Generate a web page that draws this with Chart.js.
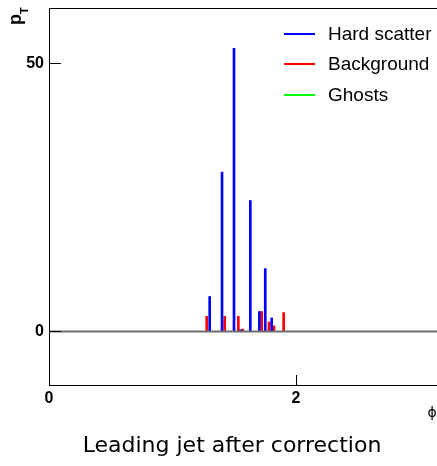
<!DOCTYPE html>
<html lang="en">
<head>
<meta charset="UTF-8">
<title>Leading jet after correction</title>
<script src="https://cdn.jsdelivr.net/npm/chart.js"></script>
<style>
  body { margin: 0; background: #fff; }
  #wrap { width: 437px; height: 466px; position: relative; }
</style>
</head>
<body>
<div id="wrap"><canvas id="jetChart"></canvas></div>
<script>
// jet phi positions and pT values
const hardPhi = [1.301, 1.401, 1.498, 1.552, 1.630, 1.703, 1.751, 1.803];
const hardPt  = [6.5, 29.7, 52.8, 0.3, 24.4, 3.7, 11.7, 2.5];
const bkgPhi  = [1.277, 1.423, 1.533, 1.568, 1.722, 1.781, 1.822, 1.900];
const bkgPt   = [2.8, 2.8, 2.8, 0.4, 3.7, 1.75, 1.0, 3.5];
const ghostPhi = [];
const ghostPt  = [];

const xTicks = [0, 2];
const yTicks = [0, 50];

const titleText = 'Leading jet after correction';

function points(xs, ys) {
  return xs.map((x, i) => ({ x: x, y: ys[i] }));
}

// frame, zero line, inner ticks, axis titles, legend and title in ROOT style
const rootFrame = {
  id: 'rootFrame',
  afterDatasetsDraw(chart) {
    const { ctx, chartArea: a, scales: { x, y } } = chart;
    ctx.save();

    const y0 = Math.round(y.getPixelForValue(0));
    ctx.strokeStyle = '#6e6e6e';
    ctx.lineWidth = 2;
    ctx.beginPath();
    ctx.moveTo(a.left, y0 + 0.5);
    ctx.lineTo(a.right, y0 + 0.5);
    ctx.stroke();

    ctx.strokeStyle = '#000';
    ctx.lineWidth = 1;
    ctx.beginPath();
    ctx.moveTo(a.left, a.top + 0.5);
    ctx.lineTo(a.right, a.top + 0.5);
    yTicks.forEach(v => {
      const py = Math.round(y.getPixelForValue(v)) + 0.5;
      ctx.moveTo(a.left, py);
      ctx.lineTo(a.left + 12, py);
    });
    xTicks.forEach(v => {
      const px = Math.round(x.getPixelForValue(v)) + 0.5;
      ctx.moveTo(px, a.bottom);
      ctx.lineTo(px, a.bottom - 10);
    });
    ctx.stroke();

    // axis titles
    ctx.fillStyle = '#000';
    ctx.font = '14px "DejaVu Sans"';
    ctx.textAlign = 'center';
    ctx.textBaseline = 'middle';
    ctx.fillText('ϕ', 432, 413);

    ctx.save();
    ctx.translate(21, 25);
    ctx.rotate(-Math.PI / 2);
    ctx.textAlign = 'left';
    ctx.textBaseline = 'alphabetic';
    ctx.font = 'bold 18px "Liberation Sans"';
    ctx.fillText('p', 0, 0);
    ctx.font = 'bold 11px "Liberation Sans"';
    ctx.fillText('T', 11, 7);
    ctx.restore();

    // legend
    const rows = [34, 64, 95];
    ctx.font = '19px "Liberation Sans"';
    ctx.textAlign = 'left';
    ctx.textBaseline = 'middle';
    chart.data.datasets.forEach((ds, i) => {
      ctx.strokeStyle = ds.backgroundColor;
      ctx.lineWidth = 2;
      ctx.beginPath();
      ctx.moveTo(284, rows[i]);
      ctx.lineTo(315, rows[i]);
      ctx.stroke();
      ctx.fillStyle = '#000';
      ctx.fillText(ds.label, 328, rows[i] + 1);
    });

    // title under the pad
    ctx.font = '22px "DejaVu Sans"';
    ctx.textAlign = 'center';
    ctx.textBaseline = 'middle';
    ctx.fillText(titleText, 232, 446);

    ctx.restore();
  }
};

const tickFont = { family: '"Liberation Sans"', size: 16, weight: 'bold' };

function noPad(s) {
  s.paddingTop = 0;
  s.paddingBottom = 0;
  s.paddingLeft = 0;
  s.paddingRight = 0;
}

new Chart(document.getElementById('jetChart'), {
  type: 'bar',
  data: {
    datasets: [
      { label: 'Hard scatter', data: points(hardPhi, hardPt), backgroundColor: '#0000ff' },
      { label: 'Background', data: points(bkgPhi, bkgPt), backgroundColor: '#ff0000' },
      { label: 'Ghosts', data: points(ghostPhi, ghostPt), backgroundColor: '#00ff00' }
    ]
  },
  options: {
    responsive: true,
    maintainAspectRatio: false,
    animation: false,
    grouped: false,
    barThickness: 2,
    layout: { padding: { top: 8, right: 0, left: 0, bottom: 41 } },
    plugins: {
      legend: { display: false },
      tooltip: { enabled: false },
      title: { display: false }
    },
    scales: {
      x: {
        type: 'linear',
        min: 0,
        max: Math.PI,
        offset: false,
        grid: { display: false, drawTicks: false, offset: false },
        border: { color: '#000', width: 1 },
        afterBuildTicks: s => { s.ticks = xTicks.map(v => ({ value: v })); },
        afterFit: s => { s.height = 40; noPad(s); },
        ticks: { color: '#000', font: tickFont, padding: 4, maxRotation: 0 }
      },
      y: {
        min: -10,
        max: 60.3,
        grid: { display: false, drawTicks: false },
        border: { color: '#000', width: 1 },
        afterBuildTicks: s => { s.ticks = yTicks.map(v => ({ value: v })); },
        afterFit: s => { s.width = 49; noPad(s); },
        ticks: { color: '#000', font: tickFont, padding: 5 }
      }
    }
  },
  plugins: [rootFrame]
});
</script>
</body>
</html>
